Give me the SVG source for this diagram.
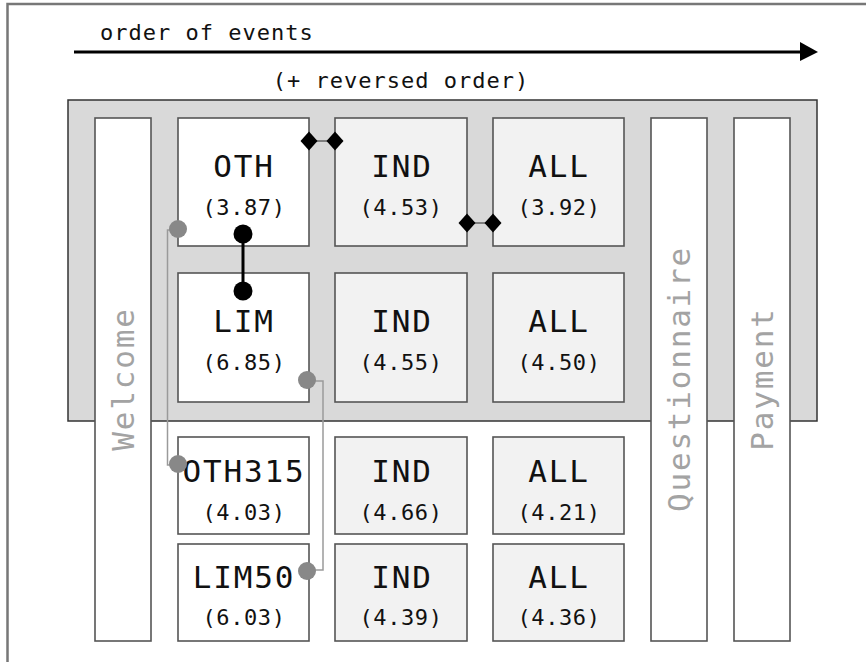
<svg xmlns="http://www.w3.org/2000/svg" width="866" height="662" viewBox="0 0 866 662">
<defs>
<style>
.frame{fill:none;stroke:#777;stroke-width:2.5}
.bg{fill:#d9d9d9;stroke:#333;stroke-width:1.5}
.w{fill:#fff;stroke:#555;stroke-width:1.6}
.g{fill:#f2f2f2;stroke:#555;stroke-width:1.6}
.lab{font-family:"DejaVu Sans Mono","Liberation Mono",monospace;font-size:31px;letter-spacing:1.8px;fill:#111;text-anchor:middle}
.num{font-family:"DejaVu Sans Mono","Liberation Mono",monospace;font-size:22px;letter-spacing:0.6px;fill:#111;text-anchor:middle}
.vert{font-family:"DejaVu Sans Mono","Liberation Mono",monospace;font-size:31px;letter-spacing:1.8px;fill:#a3a3a3;text-anchor:middle}
.title{font-family:"DejaVu Sans Mono","Liberation Mono",monospace;font-size:22px;letter-spacing:1px;fill:#111}
.gl{fill:none;stroke:#9a9a9a;stroke-width:1.5}
.gc{fill:#888}
.bl{fill:none;stroke:#000;stroke-width:3}
.bc{fill:#000}
.dl{fill:none;stroke:#444;stroke-width:1.2}
.dm{fill:#000}
</style>
</defs>
<rect x="0" y="0" width="866" height="662" fill="#fff"/>
<path class="frame" d="M7.5,662 V4 H866"/>
<g id="timeline">
<text class="title" x="100" y="40">order of events</text>
<line x1="74" y1="52" x2="802" y2="52" stroke="#000" stroke-width="3"/>
<polygon points="800,42 818,52 800,61" fill="#000"/>
<text class="title" x="401" y="88" text-anchor="middle">(+ reversed order)</text>
</g>
<g id="reversed-block"><rect class="bg" x="68" y="100" width="749" height="321"/></g>
<g id="welcome"><rect class="w" x="95" y="118" width="56" height="523"/><text class="vert" transform="translate(134,379) rotate(-90)">Welcome</text></g>
<g id="questionnaire"><rect class="w" x="651" y="118" width="56" height="523"/><text class="vert" transform="translate(690,379) rotate(-90)">Questionnaire</text></g>
<g id="payment"><rect class="w" x="734" y="118" width="56" height="523"/><text class="vert" transform="translate(773,379) rotate(-90)">Payment</text></g>
<g id="oth"><rect class="w" x="178" y="118" width="131" height="128"/><text class="lab" x="244" y="177">OTH</text><text class="num" x="244" y="215">(3.87)</text></g>
<g id="ind1"><rect class="g" x="335" y="118" width="132" height="128"/><text class="lab" x="402" y="177">IND</text><text class="num" x="401" y="215">(4.53)</text></g>
<g id="all1"><rect class="g" x="493" y="118" width="131" height="128"/><text class="lab" x="559" y="177">ALL</text><text class="num" x="559" y="215">(3.92)</text></g>
<g id="lim"><rect class="w" x="178" y="273" width="131" height="129"/><text class="lab" x="244" y="332">LIM</text><text class="num" x="244" y="370">(6.85)</text></g>
<g id="ind2"><rect class="g" x="335" y="273" width="132" height="129"/><text class="lab" x="402" y="332">IND</text><text class="num" x="401" y="370">(4.55)</text></g>
<g id="all2"><rect class="g" x="493" y="273" width="131" height="129"/><text class="lab" x="559" y="332">ALL</text><text class="num" x="559" y="370">(4.50)</text></g>
<g id="oth315"><rect class="w" x="178" y="437" width="131" height="97"/><text class="lab" x="244" y="482">OTH315</text><text class="num" x="244" y="520">(4.03)</text></g>
<g id="ind3"><rect class="g" x="335" y="437" width="132" height="97"/><text class="lab" x="402" y="482">IND</text><text class="num" x="401" y="520">(4.66)</text></g>
<g id="all3"><rect class="g" x="493" y="437" width="131" height="97"/><text class="lab" x="559" y="482">ALL</text><text class="num" x="559" y="520">(4.21)</text></g>
<g id="lim50"><rect class="w" x="178" y="544" width="131" height="97"/><text class="lab" x="244" y="588">LIM50</text><text class="num" x="244" y="625">(6.03)</text></g>
<g id="ind4"><rect class="g" x="335" y="544" width="132" height="97"/><text class="lab" x="402" y="588">IND</text><text class="num" x="401" y="625">(4.39)</text></g>
<g id="all4"><rect class="g" x="493" y="544" width="131" height="97"/><text class="lab" x="559" y="588">ALL</text><text class="num" x="559" y="625">(4.36)</text></g>
<g id="connectors">
<path class="gl" d="M178,230 H167.5 V465 H178"/>
<circle class="gc" cx="178" cy="229" r="9"/>
<circle class="gc" cx="178" cy="464" r="9"/>
<path class="gl" d="M307,381 H323 V570 H307"/>
<circle class="gc" cx="307" cy="380" r="9"/>
<circle class="gc" cx="307" cy="571" r="9"/>
<path class="bl" d="M243,234 V291"/>
<circle class="bc" cx="243" cy="234" r="9.5"/>
<circle class="bc" cx="243" cy="291" r="9.5"/>
<path class="dl" d="M309,141 H335"/>
<polygon class="dm" points="300.5,141 309,131.5 317.5,141 309,150.5"/>
<polygon class="dm" points="326.5,141 335,131.5 343.5,141 335,150.5"/>
<path class="dl" d="M467,223 H493"/>
<polygon class="dm" points="458.5,223 467,213.5 475.5,223 467,232.5"/>
<polygon class="dm" points="484.5,223 493,213.5 501.5,223 493,232.5"/>
</g>
</svg>
